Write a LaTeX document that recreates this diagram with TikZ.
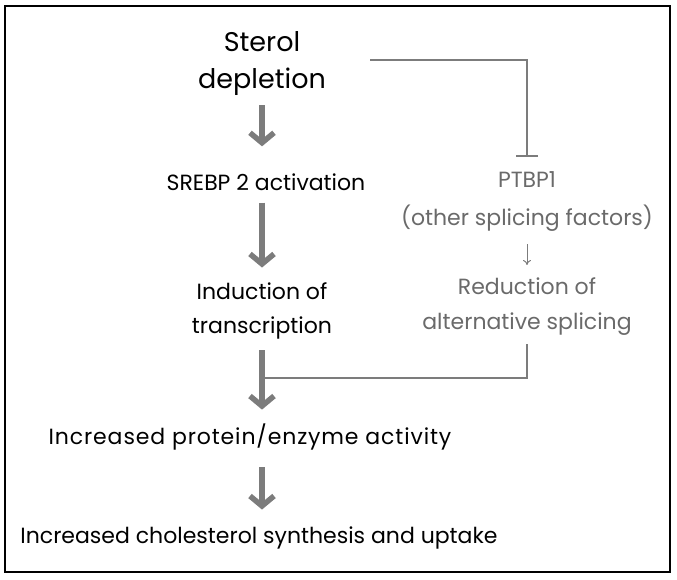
\documentclass[tikz,border=0pt]{standalone}
\usepackage{fontspec}
\setmainfont{Poppins}
\usetikzlibrary{arrows.meta}
\definecolor{arrowgrey}{HTML}{7C7C7C}
\definecolor{textgrey}{HTML}{6A6A6A}
\tikzset{
  txt/.style={inner sep=0pt, align=center, font=\fontsize{22}{34}\selectfont},
  gtxt/.style={txt, text=textgrey},
  bigarrow/.style={draw=arrowgrey, line width=5.5pt, -{Straight Barb[length=10pt,width=24pt]}},
  thinline/.style={draw=arrowgrey, line width=1.4pt},
}
\begin{document}
\begin{tikzpicture}[x=1pt,y=-1pt]
\useasboundingbox (0,0) rectangle (677,579);
\draw[line width=2pt] (5,6) rectangle (670,572);
\node[txt, font=\fontsize{27}{37}\selectfont] (sterol) at (262,64) {Sterol\\depletion};
\node[txt] (srebp) at (266,182) {SREBP 2 activation};
\node[txt] (induct) at (262,311) {Induction of\\transcription};
\node[txt, font=\fontsize{22}{34}\selectfont\addfontfeature{LetterSpace=4}] (prot) at (250,437) {Increased protein/enzyme activity};
\node[txt] (chol) at (259,538) {Increased cholesterol synthesis and uptake};
\node[gtxt] (ptbp) at (527,180) {PTBP1};
\node[gtxt] (other) at (527,218) {(other splicing factors)};
\node[gtxt, font=\fontsize{22}{35}\selectfont] (red) at (527,307) {Reduction of\\alternative splicing};
\coordinate (sout) at (370,60);
\coordinate (join) at (264,378);
\draw[bigarrow, shorten <=9pt, shorten >=27pt] (sterol.south) -- (sterol.south |- srebp.north);
\draw[bigarrow, shorten <=12pt, shorten >=15pt] (sterol.south |- srebp.south) -- (induct.north);
\draw[bigarrow, shorten <=11pt, shorten >=14pt] (induct.south) -- (induct.south |- prot.north);
\draw[bigarrow, shorten <=17pt, shorten >=17pt] (induct.south |- prot.south) -- (induct.south |- chol.north);
\draw[thinline, -{Bar[width=22pt]}, shorten >=15pt] (sout) -| (ptbp.north);
\draw[thinline, line width=1pt, -{To[length=5pt,width=8pt]}, shorten <=13pt, shorten >=13pt] (other.south) -- (red.north);
\draw[thinline, shorten <=8pt] (red.south) |- (join);
\end{tikzpicture}
\end{document}
